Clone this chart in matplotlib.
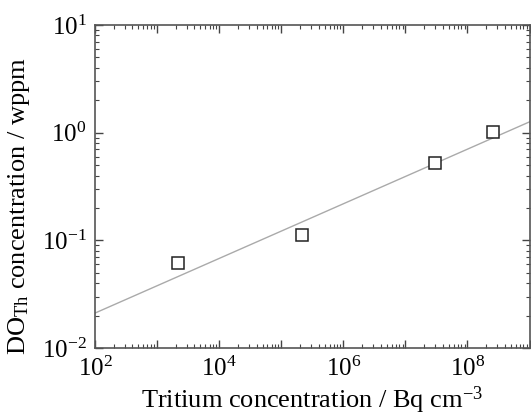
import matplotlib
matplotlib.use("Agg")
import matplotlib.pyplot as plt
from matplotlib.ticker import LogLocator, FixedLocator, NullFormatter, FixedFormatter

# data
tritium = [2.2e3, 2.2e5, 3.0e7, 2.6e8]
do_th = [0.061, 0.111, 0.52, 1.02]
fit_x = [1e2, 1e9]
fit_y = [0.0211, 1.26]
xmajor_vals = [1e2, 1e3, 1e4, 1e5, 1e6, 1e7, 1e8, 1e9]
xmajor_labels = [r"$\mathregular{10^{2}}$", "", r"$\mathregular{10^{4}}$", "", r"$\mathregular{10^{6}}$", "", r"$\mathregular{10^{8}}$", ""]
ytick_vals = [1e-2, 1e-1, 1e0, 1e1]
ytick_labels = [r"$\mathregular{10^{-2}}$", r"$\mathregular{10^{-1}}$", r"$\mathregular{10^{0}}$", r"$\mathregular{10^{1}}$"]

plt.rcParams['font.family'] = ['Liberation Serif', 'DejaVu Serif']
plt.rcParams['mathtext.fontset'] = 'custom'
plt.rcParams['mathtext.rm'] = 'Liberation Serif'
plt.rcParams['mathtext.it'] = 'Liberation Serif'

fig = plt.figure(figsize=(5.31, 4.20), dpi=100)
ax = fig.add_axes([95/531, 1-348/420, 434.5/531, 323/420])

ax.plot(fit_x, fit_y, color='#aaaaaa', lw=1.0, zorder=2)
ax.plot(tritium, do_th, ls='none', marker='s', ms=9, mfc='white', mec='#222222', mew=1.1, zorder=3)

ax.set_xscale('log')
ax.set_yscale('log')
ax.set_xlim(1e2, 1e9)
ax.set_ylim(1e-2, 1e1)

ax.xaxis.set_major_locator(FixedLocator(xmajor_vals))
ax.xaxis.set_major_formatter(FixedFormatter(xmajor_labels))
ax.xaxis.set_minor_locator(LogLocator(base=10, subs=range(2, 10), numticks=20))
ax.xaxis.set_minor_formatter(NullFormatter())

ax.yaxis.set_major_locator(FixedLocator(ytick_vals))
ax.yaxis.set_major_formatter(FixedFormatter(ytick_labels))
ax.yaxis.set_minor_locator(LogLocator(base=10, subs=range(2, 10), numticks=20))
ax.yaxis.set_minor_formatter(NullFormatter())

ax.tick_params(which='both', direction='in', top=True, right=True, colors='#444444', labelcolor='black')
ax.tick_params(which='major', length=6, width=1.0, labelsize=18, pad=6)
ax.tick_params(which='minor', length=3, width=0.8)
for s in ax.spines.values():
    s.set_color('#555555')
    s.set_linewidth(1.2)

ax.set_xlabel(r"Tritium concentration / Bq cm$\mathregular{^{-3}}$", fontsize=19, labelpad=3)
ax.set_ylabel(r"DO$\mathregular{_{Th}}$ concentration / wppm", fontsize=19)
ax.yaxis.set_label_coords(-0.145, 0.44)

fig.savefig("out.png", dpi=100)
